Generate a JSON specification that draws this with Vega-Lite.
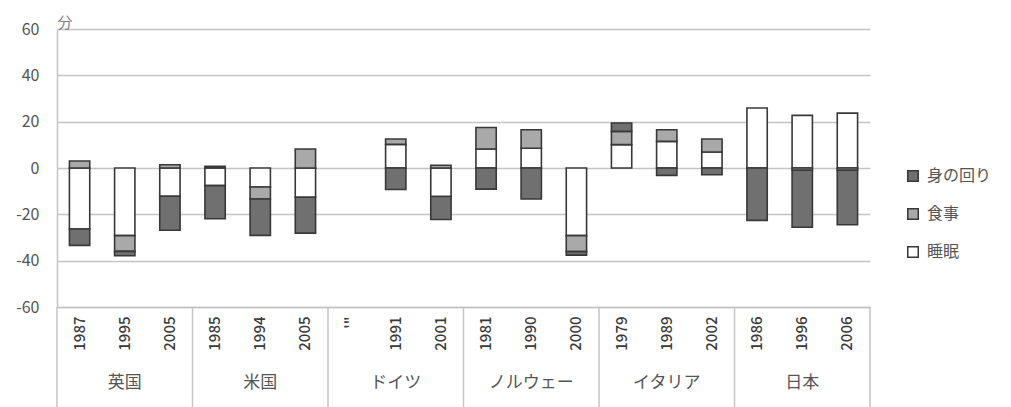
{
  "$schema": "https://vega.github.io/schema/vega-lite/v6.json",
  "width": 813,
  "height": 278,
  "autosize": "none",
  "padding": {"left": 57, "top": 29, "right": 141, "bottom": 100},
  "background": "white",
  "config": {
    "font": "Noto Sans CJK JP",
    "view": {"stroke": null}
  },
  "datasets": {
    "time": [
      {"slot": "英国|1987", "series": "睡眠", "minutes": -26.3},
      {"slot": "英国|1987", "series": "食事", "minutes": 3.0},
      {"slot": "英国|1987", "series": "身の回り", "minutes": -7.1},
      {"slot": "英国|1995", "series": "睡眠", "minutes": -29.2},
      {"slot": "英国|1995", "series": "食事", "minutes": -6.8},
      {"slot": "英国|1995", "series": "身の回り", "minutes": -1.9},
      {"slot": "英国|2005", "series": "睡眠", "minutes": -12.2},
      {"slot": "英国|2005", "series": "食事", "minutes": 1.4},
      {"slot": "英国|2005", "series": "身の回り", "minutes": -14.7},
      {"slot": "米国|1985", "series": "睡眠", "minutes": -7.6},
      {"slot": "米国|1985", "series": "食事", "minutes": 0.7},
      {"slot": "米国|1985", "series": "身の回り", "minutes": -14.3},
      {"slot": "米国|1994", "series": "睡眠", "minutes": -8.2},
      {"slot": "米国|1994", "series": "食事", "minutes": -5.2},
      {"slot": "米国|1994", "series": "身の回り", "minutes": -15.7},
      {"slot": "米国|2005", "series": "睡眠", "minutes": -12.6},
      {"slot": "米国|2005", "series": "食事", "minutes": 8.2},
      {"slot": "米国|2005", "series": "身の回り", "minutes": -15.5},
      {"slot": "ドイツ|1991", "series": "睡眠", "minutes": 10.2},
      {"slot": "ドイツ|1991", "series": "食事", "minutes": 2.3},
      {"slot": "ドイツ|1991", "series": "身の回り", "minutes": -9.3},
      {"slot": "ドイツ|2001", "series": "睡眠", "minutes": -12.3},
      {"slot": "ドイツ|2001", "series": "食事", "minutes": 1.2},
      {"slot": "ドイツ|2001", "series": "身の回り", "minutes": -9.9},
      {"slot": "ノルウェー|1981", "series": "睡眠", "minutes": 8.2},
      {"slot": "ノルウェー|1981", "series": "食事", "minutes": 9.3},
      {"slot": "ノルウェー|1981", "series": "身の回り", "minutes": -9.1},
      {"slot": "ノルウェー|1990", "series": "睡眠", "minutes": 8.5},
      {"slot": "ノルウェー|1990", "series": "食事", "minutes": 8.0},
      {"slot": "ノルウェー|1990", "series": "身の回り", "minutes": -13.4},
      {"slot": "ノルウェー|2000", "series": "睡眠", "minutes": -29.2},
      {"slot": "ノルウェー|2000", "series": "食事", "minutes": -6.9},
      {"slot": "ノルウェー|2000", "series": "身の回り", "minutes": -1.5},
      {"slot": "イタリア|1979", "series": "睡眠", "minutes": 10.1},
      {"slot": "イタリア|1979", "series": "食事", "minutes": 5.7},
      {"slot": "イタリア|1979", "series": "身の回り", "minutes": 3.6},
      {"slot": "イタリア|1989", "series": "睡眠", "minutes": 11.5},
      {"slot": "イタリア|1989", "series": "食事", "minutes": 5.0},
      {"slot": "イタリア|1989", "series": "身の回り", "minutes": -3.2},
      {"slot": "イタリア|2002", "series": "睡眠", "minutes": 6.9},
      {"slot": "イタリア|2002", "series": "食事", "minutes": 5.6},
      {"slot": "イタリア|2002", "series": "身の回り", "minutes": -2.9},
      {"slot": "日本|1986", "series": "睡眠", "minutes": 25.9},
      {"slot": "日本|1986", "series": "身の回り", "minutes": -22.6},
      {"slot": "日本|1996", "series": "睡眠", "minutes": 22.7},
      {"slot": "日本|1996", "series": "食事", "minutes": -1.0},
      {"slot": "日本|1996", "series": "身の回り", "minutes": -24.6},
      {"slot": "日本|2006", "series": "睡眠", "minutes": 23.7},
      {"slot": "日本|2006", "series": "食事", "minutes": -1.0},
      {"slot": "日本|2006", "series": "身の回り", "minutes": -23.5}
    ],
    "countries": [
      {"country": "英国", "first": "英国|1987", "mid": "英国|1995"},
      {"country": "米国", "first": "米国|1985", "mid": "米国|1994"},
      {"country": "ドイツ", "first": "ドイツ|'\"", "mid": "ドイツ|1991"},
      {"country": "ノルウェー", "first": "ノルウェー|1981", "mid": "ノルウェー|1990"},
      {"country": "イタリア", "first": "イタリア|1979", "mid": "イタリア|1989"},
      {"country": "日本", "first": "日本|1986", "mid": "日本|1996"}
    ],
    "lastEdge": [{"last": "日本|2006"}]
  },
  "layer": [
    {
      "data": {"name": "time"},
      "transform": [
        {"calculate": "indexof(['睡眠', '食事', '身の回り'], datum.series)", "as": "stackOrder"}
      ],
      "mark": {"type": "bar", "width": {"band": 0.45}, "stroke": "#383838", "strokeWidth": 1.6},
      "encoding": {
        "x": {
          "field": "slot",
          "type": "nominal",
          "scale": {
            "domain": ["英国|1987", "英国|1995", "英国|2005", "米国|1985", "米国|1994", "米国|2005", "ドイツ|'\"", "ドイツ|1991", "ドイツ|2001", "ノルウェー|1981", "ノルウェー|1990", "ノルウェー|2000", "イタリア|1979", "イタリア|1989", "イタリア|2002", "日本|1986", "日本|1996", "日本|2006"],
            "paddingInner": 0,
            "paddingOuter": 0
          },
          "axis": {
            "title": null,
            "labelExpr": "split(datum.value, '|')[1]",
            "labelAngle": -90,
            "labelFontSize": 15,
            "labelFontWeight": 500,
            "labelColor": "#3a3a3a",
            "labelPadding": 9,
            "ticks": false,
            "domainColor": "#c4c4c4",
            "domainWidth": 1.5,
            "grid": false
          }
        },
        "y": {
          "field": "minutes",
          "type": "quantitative",
          "stack": "zero",
          "scale": {"domain": [-60, 60], "nice": false},
          "axis": {
            "title": "分",
            "titleAngle": 0,
            "titleAlign": "left",
            "titleBaseline": "alphabetic",
            "titleX": 0,
            "titleY": -2,
            "titleFontSize": 15,
            "titleFontWeight": "normal",
            "titleColor": "#808080",
            "values": [-60, -40, -20, 0, 20, 40, 60],
            "labelExpr": "datum.value < 0 ? '-' + abs(datum.value) : '' + datum.value",
            "labelFontSize": 16,
            "labelColor": "#555555",
            "labelPadding": 18,
            "ticks": false,
            "domainColor": "#c4c4c4",
            "domainWidth": 1.5,
            "gridColor": "#c4c4c4",
            "gridWidth": 1.5
          }
        },
        "color": {
          "field": "series",
          "type": "nominal",
          "scale": {
            "domain": ["身の回り", "食事", "睡眠"],
            "range": ["#707070", "#a9a9a9", "#ffffff"]
          },
          "legend": {
            "title": null,
            "orient": "none",
            "legendX": 848,
            "legendY": 139,
            "symbolType": "square",
            "symbolSize": 110,
            "symbolStrokeColor": "#383838",
            "symbolStrokeWidth": 1.5,
            "labelFontSize": 16,
            "labelColor": "#555555",
            "labelOffset": 6,
            "rowPadding": 20
          }
        },
        "order": {"field": "stackOrder", "type": "quantitative"}
      }
    },
    {
      "data": {"name": "countries"},
      "mark": {"type": "rule", "stroke": "#c4c4c4", "strokeWidth": 1.5},
      "encoding": {
        "x": {"field": "first", "type": "nominal", "bandPosition": 0},
        "y": {"datum": -60},
        "y2": {"datum": -130}
      }
    },
    {
      "data": {"name": "lastEdge"},
      "mark": {"type": "rule", "stroke": "#c4c4c4", "strokeWidth": 1.5},
      "encoding": {
        "x": {"field": "last", "type": "nominal", "bandPosition": 1},
        "y": {"datum": -60},
        "y2": {"datum": -130}
      }
    },
    {
      "data": {"name": "countries"},
      "mark": {"type": "text", "fontSize": 17, "color": "#555555", "baseline": "middle", "align": "center"},
      "encoding": {
        "x": {"field": "mid", "type": "nominal"},
        "y": {"datum": -93},
        "text": {"field": "country"}
      }
    }
  ]
}
